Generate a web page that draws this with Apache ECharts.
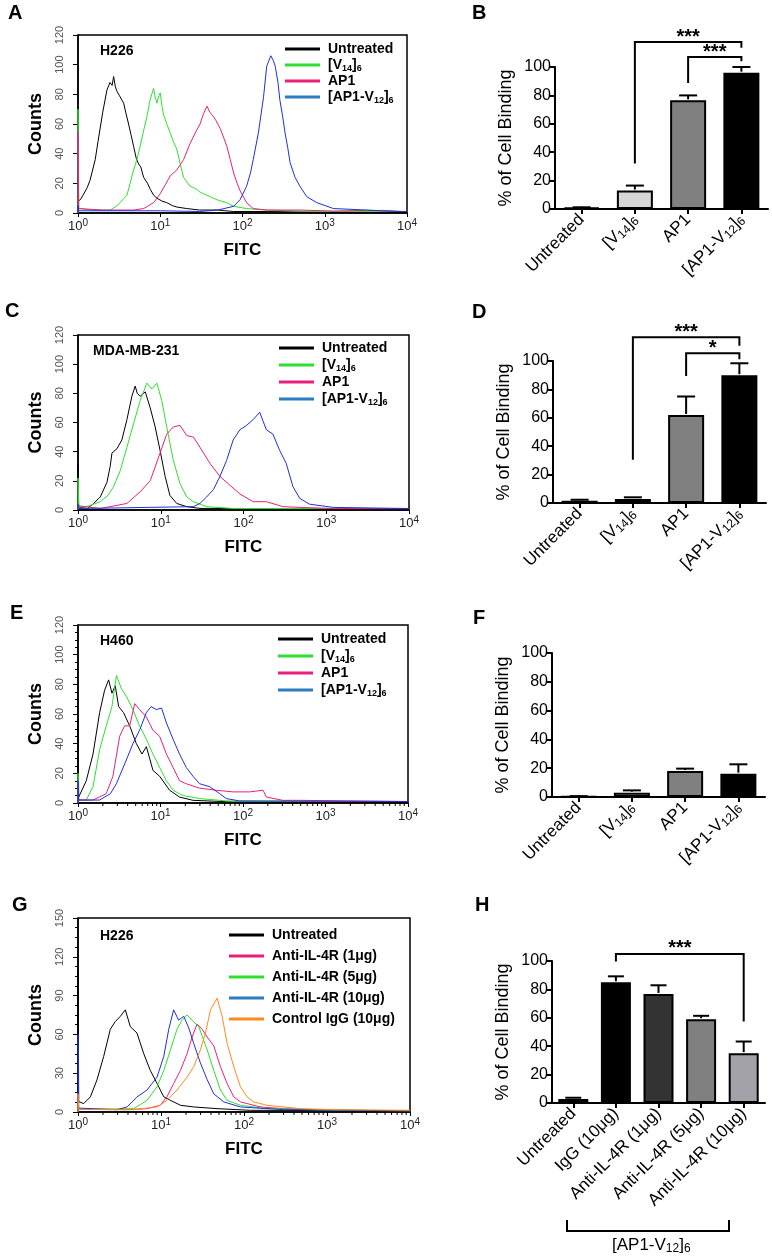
<!DOCTYPE html>
<html><head><meta charset="utf-8">
<script src="https://cdn.jsdelivr.net/npm/echarts@6/dist/echarts.min.js"></script>
<style>html,body{margin:0;padding:0;background:#fff}#c{width:772px;height:1259px}</style>
</head><body><div id="c"></div><script>
// ---------- DATA: flow cytometry histograms ([FITC, Counts]) ----------
const A_untreated = [[1,0],[1,8],[1.07,9],[1.15,12],[1.29,17],[1.4,22],[1.62,36],[1.75,48],[1.87,58],[2.0,68],[2.25,83],[2.45,88],[2.6,86],[2.71,92],[2.85,85],[2.98,82],[3.2,79],[3.59,74],[3.8,68],[4.12,60],[4.4,53],[4.74,45],[5.1,37],[5.46,33],[5.8,31],[6.28,24],[7.0,20],[7.56,16],[8.3,12],[9.11,10],[10.5,8],[12,7],[14,5],[16,4],[21,3],[30,2],[50,2],[78,1],[200,1],[1000,0.5],[10000,0.5]];
const A_v14 = [[1,0],[1,70],[1.02,3],[1.5,2],[2.0,2],[2.47,2],[3.0,5],[3.5,9],[3.94,12],[4.3,20],[4.74,29],[5.2,36],[5.7,45],[6.3,56],[6.9,65],[7.5,76],[8.3,84],[8.7,78],[9.1,74],[9.6,79],[10,81],[10.5,72],[11,66],[12,60],[13.2,54],[14.5,48],[15.9,43],[17.5,33],[19.2,24],[21,21],[23.1,18],[25.5,17],[27.8,16],[30.5,14],[33.6,13],[37,12],[40.5,11],[44,10],[48.8,9],[55,8],[64.5,7],[78,4.5],[112,3],[197,2],[500,1.3],[3240,1],[5650,1.5],[10000,1]];
const A_ap1 = [[1,0],[1,55],[1.02,3],[2,2],[4.74,2],[6.3,3],[8.3,7],[10,13],[11.5,19],[13.2,25],[15.9,29],[19.2,36],[23.1,47],[27.8,56],[30.5,60],[33.6,67],[37,72],[40,68],[44.4,65],[48,62],[53.5,57],[58,52],[64.5,45],[71,36],[78,27],[86,20],[93.6,15],[112,7],[135,3],[197,2],[500,2],[1274,1.3],[3240,1.8],[8200,1],[10000,1]];
const A_ap1v12 = [[1,0],[1,5],[1.02,1.5],[10,1.5],[30,1],[50,2],[78,4.5],[93.6,9],[112,18],[125,27],[135,36],[156,54],[180,78],[197,99],[221,106],[236,103],[250,99],[270,88],[285,76],[310,64],[329,54],[355,44],[379,34],[435,24],[500,18],[604,11],[800,7],[1274,3],[3240,2],[8200,1],[10000,1]];

const C_untreated = [[1,0],[1,32],[1.02,2],[1.3,1],[1.55,4.5],[1.86,9],[2.24,19],[2.45,30],[2.57,39],[2.95,42],[3.39,48],[3.9,62],[4.48,78],[4.91,85],[5.2,80],[5.64,78],[6.5,81],[7.46,70],[8.56,57],[9.8,41],[11.3,23],[12.9,10],[15.6,4.5],[20.6,2.3],[29.8,1.1],[100,1],[1000,1],[10000,1]];
const C_v14 = [[1,0],[1,22],[1.02,2],[1.28,2.3],[1.86,5.7],[2.3,10],[2.69,16],[3.24,27],[3.9,43],[4.68,59],[5.64,75],[6.79,87],[7.8,83],[8.96,87],[10.3,75],[11.8,57],[14.2,34],[17.1,18],[20.6,9],[24.8,5.7],[35.9,2.3],[75,1],[10000,1]];
const C_ap1 = [[1,0],[1,3],[1.86,1],[3.9,4.5],[5.64,12.5],[7.46,20],[9.8,39],[11.8,52],[14.2,57],[17.1,58],[20.6,51],[24.8,50],[29.8,43],[39.3,32],[51.9,23],[68.5,17],[90.4,11],[131,5.7],[189,5.7],[301,2.3],[478,1.8],[1212,1],[10000,1]];
const C_ap1v12 = [[1,0],[1,4],[1.02,1],[24.8,2.3],[29.8,4.5],[35.9,9],[43.3,14],[51.9,23],[62.5,34],[75,48],[90.4,55],[108.8,58],[131,62],[157,67],[189,55],[227,52],[273,41],[328,32],[396,16],[478,8],[627,4],[1212,1.8],[10000,1]];

const E_untreated = [[1,0],[1,56],[1.02,4],[1.07,4],[1.26,15],[1.52,33],[1.83,61],[2.1,76],[2.35,83],[2.58,74],[2.83,79],[3.11,65],[3.56,61],[4.23,52],[5.1,40],[5.96,33],[6.74,38],[8.1,22],[9.77,18],[12.9,8.6],[17,4],[24.8,1.8],[75.4,0.7],[10000,0.5]];
const E_v14 = [[1,0],[1,20],[1.02,2],[1.26,2],[1.52,11],[1.83,36],[2.2,52],[2.58,65],[2.92,86],[3.36,77],[3.85,72],[4.63,63],[5.57,52],[6.74,43],[8.1,33],[9.77,24],[11.8,15],[14.2,8.6],[18.8,5],[29.7,3],[62.7,1.4],[10000,1]];
const E_ap1 = [[1,0],[1,10],[1.02,2],[1.52,2],[2.2,6.3],[2.65,18],[3.2,45],[3.67,52],[4.23,52],[4.87,67],[5.57,63],[6.74,58],[8.1,49],[9.77,45],[11.8,33],[14.2,24],[17,15],[20.5,13],[29.7,10],[47.5,8.6],[75.4,7.5],[120,7.5],[175,8.6],[192,4],[304,1.8],[482,1.8],[10000,1]];
const E_ap1v12 = [[1,0],[1,15],[1.02,2],[1.83,2],[2.47,6.3],[2.92,13],[3.85,29],[4.63,40],[5.57,49],[6.74,61],[7.7,65],[8.9,63],[10.3,64],[11.8,54],[14.2,43],[17,33],[20.5,24],[24.8,18],[29.7,13],[39.4,11],[52.2,6.3],[62.7,3],[90.8,1.4],[10000,1]];

const G_untreated = [[1,0],[1,110],[1.02,8],[1.17,6.5],[1.41,11.7],[1.69,24.7],[2.04,43],[2.45,64],[2.82,70],[3.24,74],[3.72,79],[4.27,66],[5.14,61],[6.2,45],[7.45,32],[8.97,22],[10.8,11.7],[13,9],[17.2,5.2],[24.8,3.9],[47.4,2.6],[119,1.3],[10000,1]];
const G_1ug = [[1,0],[1,15],[1.02,2],[3.9,1.8],[6.8,2.6],[9.8,5.2],[11.8,11.7],[14.2,22],[17.1,32],[20.6,45],[23.7,58],[27.2,68],[31.3,64],[36,58],[43.3,51],[52,35],[62.6,22],[75.3,11.7],[90.6,7.8],[109,6.5],[157,3.9],[302,2.6],[1208,1.3],[10000,1]];
const G_5ug = [[1,0],[1,8],[1.02,2],[4.68,2.6],[6.79,9],[8.96,19.5],[10.8,32],[13,48],[15.6,64],[17.9,71],[20.6,75],[23.7,71],[28.5,66],[36,48],[43.3,32],[52,17],[62.6,9],[90.6,5.2],[189,2.6],[1208,1.3],[10000,1]];
const G_10ug = [[1,0],[1,60],[1.02,3],[2.95,1.8],[3.9,3.9],[5.14,11.7],[6.79,17],[8.96,27],[10.8,43],[12.4,64],[14.2,79],[16.3,71],[18.8,74],[21.6,65],[24.8,53],[29.8,38],[36,25],[43.3,14],[57.2,7.8],[90.6,3.9],[302,1.8],[10000,1]];
const G_igg = [[1,0],[1,14],[1.02,2],[4.68,1.8],[8.96,3.9],[11.8,9],[15.6,17],[20.6,27],[24.8,35],[29.8,48],[34.3,61],[39.5,79],[47.5,88],[54.5,74],[62.6,53],[75.3,35],[90.6,19.5],[109,11.7],[131,7.8],[189,5.2],[478,2.6],[1208,1.8],[10000,1.3]];

// ---------- DATA: bar charts (% of cell binding) ----------
const peptideCats = ['Untreated', '[V14]6', 'AP1', '[AP1-V12]6'];
const B_mean = [1, 13, 76.5, 96];
const B_upper = [1.2, 16.5, 80, 100];
const D_mean = [1.5, 2.8, 62, 90];
const D_upper = [2.3, 4, 75, 98.4];
const F_mean = [0.5, 3, 18, 16.2];
const F_upper = [0.6, 4.6, 19.7, 22.7];
const H_cats = ['Untreated', 'IgG (10μg)', 'Anti-IL-4R (1μg)', 'Anti-IL-4R (5μg)', 'Anti-IL-4R (10μg)'];
const H_mean = [2.8, 85, 76.8, 59, 35.1];
const H_upper = [3.7, 89.2, 82.9, 61.4, 43.3];
// significance brackets: [fromCat, fromY, toCat, toY, topY]
const B_brackets = [[1, 32, 3, 113.6, 117.6], [2, 88.8, 3, 104, 107]];
const B_stars = ['***', '***'];
const D_brackets = [[1, 30.5, 3, 110.8, 116.7], [2, 89.5, 3, 101.2, 105.4]];
const D_stars = ['***', '*'];
const H_brackets = [[1, 99.6, 4, 57.4, 105]];
const H_stars = ['***'];
const yTicks100 = [0, 20, 40, 60, 80, 100];

// ---------- helpers ----------
const FONT = '"Liberation Sans", Arial, Helvetica, sans-serif';
const COL = {black:'#000000', green:'#2ee02e', pink:'#ea1f7a', blue:'#1f2fd8', orange:'#ff8a1c', legBlue:'#2c7cc0'};
function fmtSub(s){ return s.replace(/V(\d+)\]/, 'V{sub|$1}]').replace(/\]6$/, ']{sub|6}'); }

const grids = [], xAxes = [], yAxes = [], series = [], legends = [], graphics = [];

function histPanel(cfg){
  const gi = grids.length;
  grids.push({left: cfg.left, top: cfg.top, width: cfg.width, height: cfg.height, show: true, borderColor: '#000', borderWidth: 1.5, containLabel: false});
  xAxes.push({gridIndex: gi, type: 'log', logBase: 10, min: 1, max: 10000, splitNumber: 4,
    name: 'FITC', nameLocation: 'middle', nameGap: 29,
    nameTextStyle: {fontFamily: FONT, fontWeight: 'bold', fontSize: 17, color: '#000'},
    axisLine: {show: true, lineStyle: {color: '#000', width: 1.5}},
    axisTick: {show: true, length: 4, lineStyle: {color: '#000'}},
    splitLine: {show: false},
    axisLabel: {margin: 5, fontFamily: FONT, fontSize: 13, color: '#222', lineHeight: 16,
      formatter: v => '10{sup|' + Math.round(Math.log10(v)) + '}',
      rich: {sup: {fontFamily: FONT, fontSize: 10, lineHeight: 10, verticalAlign: 'top', color: '#222'}}}
  });
  yAxes.push({gridIndex: gi, type: 'value', min: 0, max: cfg.ymax, interval: cfg.yint,
    name: 'Counts', nameLocation: 'middle', nameGap: 33, nameRotate: 90,
    nameTextStyle: {fontFamily: FONT, fontWeight: 'bold', fontSize: 18, color: '#000'},
    axisLine: {show: true, lineStyle: {color: '#000', width: 1.5}},
    axisTick: {show: true, length: 5, lineStyle: {color: '#000'}},
    minorTick: {show: !!cfg.minor, splitNumber: 4, length: 3, lineStyle: {color: '#000'}},
    splitLine: {show: false},
    axisLabel: {rotate: 90, margin: 13, fontFamily: FONT, fontSize: 11, color: '#555'}
  });
  cfg.curves.forEach(c => series.push({type: 'line', name: c.name, xAxisIndex: gi, yAxisIndex: gi, data: c.data,
    showSymbol: false, symbol: 'none', lineStyle: {color: c.color, width: 1}, itemStyle: {color: c.color},
    animation: false, silent: true, z: 3}));
  if (cfg.minor) {
    const minorPos = [];
    for (let k = 0; k < 4; k++) for (let m = 2; m <= 9; m++) minorPos.push([m * Math.pow(10, k), 0]);
    series.push({type: 'custom', xAxisIndex: gi, yAxisIndex: gi, data: minorPos, clip: false, silent: true, animation: false,
      encode: {x: 0, y: 1},
      renderItem: (p, api) => { const pt = api.coord([api.value(0), 0]);
        return {type: 'line', shape: {x1: pt[0], y1: pt[1], x2: pt[0], y2: pt[1] + 3}, style: {stroke: '#000', lineWidth: 1}}; }});
  }
  legends.push({orient: 'vertical', left: cfg.legLeft, top: cfg.legTop, padding: 0, itemGap: cfg.legGap,
    itemWidth: 35, itemHeight: 3, icon: 'rect', selectedMode: false,
    data: cfg.curves.map(c => ({name: c.name, itemStyle: {color: c.legColor || c.color, borderWidth: 0}})),
    formatter: n => fmtSub(n),
    textStyle: {fontFamily: FONT, fontWeight: 'bold', fontSize: 14, lineHeight: 16, color: '#000', padding: [0, 0, 0, 3],
      rich: {sub: {fontFamily: FONT, fontWeight: 'bold', fontSize: 9, lineHeight: 9, verticalAlign: 'bottom', color: '#000'}}}
  });
  graphics.push({type: 'text', left: cfg.cellX, top: cfg.cellY - 8,
    style: {text: cfg.cell, font: 'bold 14px ' + FONT, fill: '#000'}});
}

function barPanel(cfg){
  const gi = grids.length;
  grids.push({left: cfg.left, top: cfg.top, width: cfg.width, height: cfg.height, show: false, containLabel: false});
  xAxes.push({gridIndex: gi, type: 'category', data: cfg.cats,
    axisLine: {show: true, lineStyle: {color: '#000', width: 2}},
    axisTick: {show: true, alignWithLabel: true, length: 5, lineStyle: {color: '#000', width: 2}},
    splitLine: {show: false},
    axisLabel: {interval: 0, rotate: 45, margin: 8, fontFamily: FONT, fontSize: 17, color: '#000', lineHeight: 19,
      formatter: v => fmtSub(v),
      rich: {sub: {fontFamily: FONT, fontSize: 12, lineHeight: 12, verticalAlign: 'bottom', color: '#000'}}}
  });
  yAxes.push({gridIndex: gi, type: 'value', min: 0, max: 100, interval: 20,
    name: '% of Cell Binding', nameLocation: 'middle', nameGap: 40, nameRotate: 90,
    nameTextStyle: {fontFamily: FONT, fontSize: 18, color: '#000'},
    axisLine: {show: true, lineStyle: {color: '#000', width: 2}},
    axisTick: {show: true, length: 5, lineStyle: {color: '#000', width: 2}},
    splitLine: {show: false},
    axisLabel: {margin: 4, fontFamily: FONT, fontSize: 16, color: '#000',
      formatter: v => (yTicks100.indexOf(v) >= 0 ? String(v) : '')}
  });
  series.push({type: 'bar', xAxisIndex: gi, yAxisIndex: gi, barWidth: cfg.barWidth, animation: false, silent: true,
    data: cfg.mean.map((v, i) => ({value: v, itemStyle: {color: cfg.colors[i]}})),
    itemStyle: {borderColor: '#000', borderWidth: 2}, z: 2});
  const cw = cfg.capWidth;
  series.push({type: 'custom', xAxisIndex: gi, yAxisIndex: gi, clip: false, silent: true, animation: false, z: 3,
    data: cfg.mean.map((v, i) => [i, v, cfg.upper[i]]), encode: {x: 0, y: 1},
    renderItem: (p, api) => {
      const a = api.coord([api.value(0), api.value(1)]), b = api.coord([api.value(0), api.value(2)]);
      return {type: 'group', children: [
        {type: 'line', shape: {x1: a[0], y1: a[1] - 1, x2: b[0], y2: b[1]}, style: {stroke: '#000', lineWidth: 2}},
        {type: 'line', shape: {x1: b[0] - cw / 2, y1: b[1], x2: b[0] + cw / 2, y2: b[1]}, style: {stroke: '#000', lineWidth: 2}}
      ]};
    }});
  if (cfg.brackets) {
    const labels = cfg.stars;
    series.push({type: 'custom', xAxisIndex: gi, yAxisIndex: gi, clip: false, silent: true, animation: false, z: 4,
      data: cfg.brackets, encode: {x: 0, y: 1},
      renderItem: (p, api) => {
        const s = api.coord([api.value(0), api.value(1)]), t1 = api.coord([api.value(0), api.value(4)]);
        const t2 = api.coord([api.value(2), api.value(4)]), e = api.coord([api.value(2), api.value(3)]);
        return {type: 'group', children: [
          {type: 'polyline', shape: {points: [s, t1, t2, e]}, style: {stroke: '#000', lineWidth: 2, fill: null}},
          {type: 'text', x: (t1[0] + t2[0]) / 2, y: t1[1] - 5,
            style: {text: labels[p.dataIndex], font: 'bold 20px ' + FONT, fill: '#000', align: 'center', verticalAlign: 'middle'}}
        ]};
      }});
  }
}

// ---------- panels ----------
histPanel({left: 78, top: 35, width: 329, height: 178, ymax: 120, yint: 20, minor: false,
  cell: 'H226', cellX: 100, cellY: 52, legLeft: 285, legTop: 41, legGap: 0,
  curves: [{name: 'Untreated', data: A_untreated, color: COL.black},
           {name: '[V14]6', data: A_v14, color: COL.green},
           {name: 'AP1', data: A_ap1, color: COL.pink},
           {name: '[AP1-V12]6', data: A_ap1v12, color: COL.blue, legColor: COL.legBlue}]});
barPanel({left: 555, top: 67, width: 213, height: 142, cats: peptideCats, mean: B_mean, upper: B_upper,
  colors: ['#ffffff', '#d6d6d6', '#808080', '#000000'], barWidth: 36, capWidth: 18, brackets: B_brackets, stars: B_stars});
histPanel({left: 78, top: 335, width: 331, height: 175, ymax: 120, yint: 20, minor: false,
  cell: 'MDA-MB-231', cellX: 93, cellY: 352, legLeft: 279, legTop: 340, legGap: 1,
  curves: [{name: 'Untreated', data: C_untreated, color: COL.black},
           {name: '[V14]6', data: C_v14, color: COL.green},
           {name: 'AP1', data: C_ap1, color: COL.pink},
           {name: '[AP1-V12]6', data: C_ap1v12, color: COL.blue, legColor: COL.legBlue}]});
barPanel({left: 553, top: 361, width: 213, height: 142, cats: peptideCats, mean: D_mean, upper: D_upper,
  colors: ['#bdbdbd', '#d6d6d6', '#808080', '#000000'], barWidth: 36, capWidth: 18, brackets: D_brackets, stars: D_stars});
histPanel({left: 78, top: 625, width: 330, height: 178, ymax: 120, yint: 20, minor: true,
  cell: 'H460', cellX: 100, cellY: 642, legLeft: 278, legTop: 631, legGap: 1,
  curves: [{name: 'Untreated', data: E_untreated, color: COL.black},
           {name: '[V14]6', data: E_v14, color: COL.green},
           {name: 'AP1', data: E_ap1, color: COL.pink},
           {name: '[AP1-V12]6', data: E_ap1v12, color: COL.blue, legColor: COL.legBlue}]});
barPanel({left: 552, top: 653, width: 213, height: 144, cats: peptideCats, mean: F_mean, upper: F_upper,
  colors: ['#ffffff', '#d6d6d6', '#808080', '#000000'], barWidth: 36, capWidth: 18});
histPanel({left: 78, top: 918, width: 332, height: 194, ymax: 150, yint: 30, minor: true,
  cell: 'H226', cellX: 100, cellY: 937, legLeft: 229, legTop: 927, legGap: 5,
  curves: [{name: 'Untreated', data: G_untreated, color: COL.black},
           {name: 'Anti-IL-4R (1μg)', data: G_1ug, color: COL.pink},
           {name: 'Anti-IL-4R (5μg)', data: G_5ug, color: COL.green},
           {name: 'Anti-IL-4R (10μg)', data: G_10ug, color: COL.blue, legColor: COL.legBlue},
           {name: 'Control IgG (10μg)', data: G_igg, color: COL.orange}]});
barPanel({left: 552, top: 961, width: 213, height: 142, cats: H_cats, mean: H_mean, upper: H_upper,
  colors: ['#d0d0d0', '#000000', '#333333', '#808080', '#a2a2a8'], barWidth: 30, capWidth: 16, brackets: H_brackets, stars: H_stars});

// panel letters
[['A', 8, 13], ['B', 472, 13], ['C', 5, 311], ['D', 472, 312], ['E', 10, 613], ['F', 473, 618], ['G', 12, 905], ['H', 475, 905]]
  .forEach(l => graphics.push({type: 'text', left: l[1], top: l[2] - 10, style: {text: l[0], font: 'bold 20px ' + FONT, fill: '#000'}}));
// group bracket under panel H
graphics.push({type: 'polyline', shape: {points: [[567, 1220], [567, 1231], [729, 1231], [729, 1220]]}, style: {stroke: '#000', lineWidth: 2, fill: null}});
graphics.push({type: 'text', left: 612, top: 1236,
  style: {text: '[AP1-V{sub|12}]{sub|6}', font: '17px ' + FONT, fill: '#000', lineHeight: 19,
    rich: {sub: {fontFamily: FONT, fontSize: 12, lineHeight: 12, verticalAlign: 'bottom', fill: '#000'}}}});

const chart = echarts.init(document.getElementById('c'), null, {renderer: 'canvas'});
chart.setOption({backgroundColor: '#fff', animation: false, textStyle: {fontFamily: FONT},
  grid: grids, xAxis: xAxes, yAxis: yAxes, series: series, legend: legends, graphic: graphics});
</script></body></html>
